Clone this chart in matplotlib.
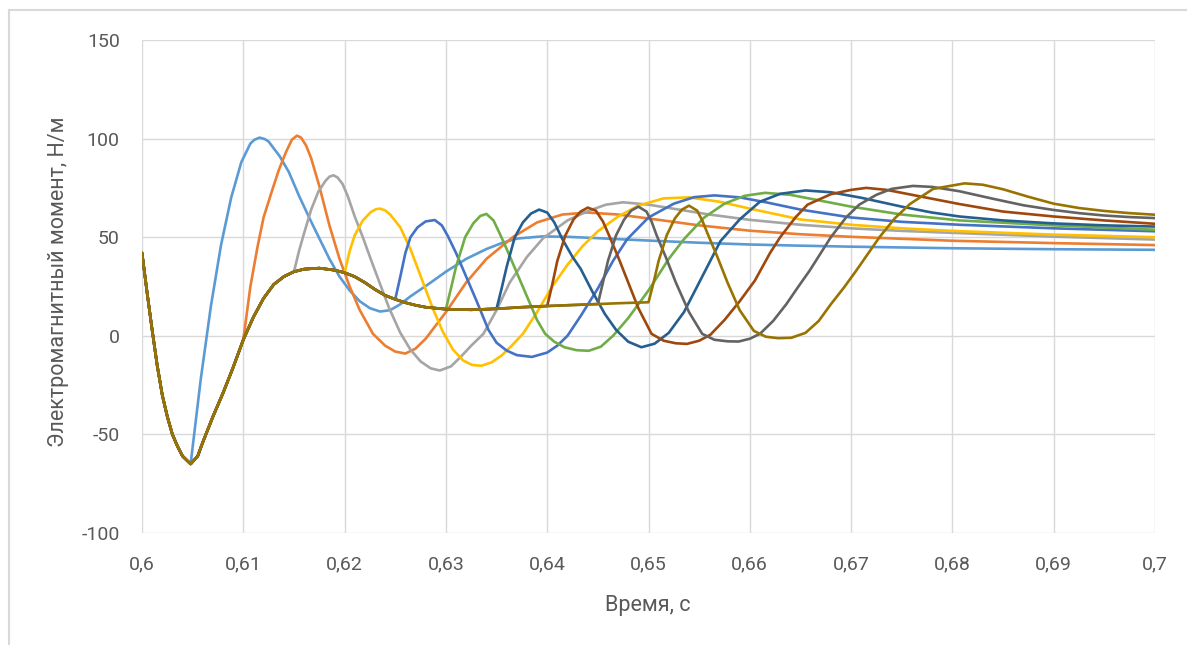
import matplotlib
matplotlib.use("Agg")
import matplotlib.pyplot as plt
from matplotlib.lines import Line2D

# ---------------- data ----------------
X_TICKS = [0.60, 0.61, 0.62, 0.63, 0.64, 0.65, 0.66, 0.67, 0.68, 0.69, 0.70]
X_TICK_LABELS = ["0,6", "0,61", "0,62", "0,63", "0,64", "0,65", "0,66", "0,67", "0,68", "0,69", "0,7"]
Y_TICKS = [-100, -50, 0, 50, 100, 150]
Y_TICK_LABELS = ["-100", "-50", "0", "50", "100", "150"]
X_LABEL = "Время, с"
Y_LABEL = "Электромагнитный момент, Н/м"

COLORS = ["#5B9BD5", "#ED7D31", "#A5A5A5", "#FFC000", "#4472C4",
          "#70AD47", "#255E91", "#9E480E", "#636363", "#997300"]

# common pre-switch trajectory
BASE_T = [0.600, 0.6005, 0.601, 0.6015, 0.602, 0.6025, 0.603, 0.6035, 0.604, 0.6048,
          0.6055, 0.606, 0.607, 0.608, 0.609, 0.610, 0.611, 0.612, 0.613, 0.614,
          0.615, 0.616, 0.6175, 0.619, 0.620, 0.621, 0.622, 0.623, 0.624, 0.625,
          0.626, 0.627, 0.628, 0.629, 0.630, 0.6325, 0.635, 0.6375, 0.640, 0.6425,
          0.645, 0.6475, 0.650]
BASE_V = [42, 22, 3, -15, -30, -41, -50, -56, -61, -65,
          -61, -54, -41, -29, -16, -2, 9.5, 19, 26, 30,
          32.5, 33.8, 34.3, 33.3, 32, 30, 27, 23.5, 20.5, 18.5,
          16.8, 15.5, 14.5, 14, 13.5, 13.2, 13.7, 14.5, 15.1, 15.6,
          16.1, 16.6, 17]

# switching instants of the ten series
SWITCH_T = [0.6048, 0.610, 0.615, 0.620, 0.625, 0.630, 0.635, 0.640, 0.645, 0.650]

# post-switch parts
T1 = [0.6058, 0.6068, 0.6078, 0.6088, 0.6098, 0.6107, 0.6111, 0.6116, 0.6121, 0.6125,
      0.6136, 0.6145, 0.6155, 0.6165, 0.6174, 0.6185, 0.6195, 0.6205, 0.6215, 0.6225,
      0.6235, 0.6245, 0.6255, 0.6265, 0.6275, 0.6285, 0.630, 0.632, 0.634, 0.6355,
      0.637, 0.6395, 0.642, 0.645, 0.650, 0.655, 0.660, 0.665, 0.670, 0.680,
      0.690, 0.700]
V1 = [-22, 15, 46, 70, 88, 97.5, 99.4, 100.5, 99.8, 98.5,
      91, 83, 71, 60, 50.5, 39, 30, 23, 17.5, 14,
      12.3, 13, 16, 20, 23.5, 27, 32.5, 39, 44, 47,
      49.3, 50.4, 50.2, 49.5, 48.3, 47.2, 46.3, 45.7, 45.2, 44.4,
      43.9, 43.6]

T2 = [0.6107, 0.6114, 0.612, 0.6128, 0.6135, 0.6142, 0.6148, 0.6153, 0.6157, 0.6162,
      0.6167, 0.6175, 0.6185, 0.6195, 0.6205, 0.6215, 0.6228, 0.624, 0.625, 0.626,
      0.627, 0.628, 0.630, 0.632, 0.634, 0.6366, 0.639, 0.6415, 0.644, 0.647,
      0.650, 0.655, 0.660, 0.665, 0.670, 0.680, 0.690, 0.700]
V2 = [25, 45, 60, 73, 84, 93, 99.5, 101.5, 100.5, 96.5,
      90, 76, 56, 39, 25, 13, 1, -5, -8, -9,
      -6.5, -1.5, 12, 27, 39, 50, 57.5, 61.5, 62.5, 61.5,
      59.5, 56, 53.3, 51.5, 50.2, 48.2, 47, 46]

T3 = [0.6155, 0.616, 0.6167, 0.6174, 0.6181, 0.6185, 0.6189, 0.6193, 0.6198, 0.6203,
      0.621, 0.6218, 0.6225, 0.6233, 0.6244, 0.6255, 0.6265, 0.6275, 0.6285, 0.6294,
      0.6305, 0.6315, 0.6325, 0.6337, 0.635, 0.6363, 0.638, 0.6396, 0.642, 0.6439,
      0.6458, 0.6475, 0.650, 0.653, 0.656, 0.660, 0.665, 0.670, 0.675, 0.680,
      0.690, 0.700]
V3 = [43, 52, 64, 73, 78.5, 80.7, 81.4, 80.3, 77, 71,
      60.5, 50, 40, 29, 14, 1.5, -7, -13, -16.5, -17.6,
      -15.5, -10.5, -5, 1, 13, 27, 40, 49.5, 58.5, 63,
      66.5, 67.7, 66.5, 64, 61.5, 58.8, 56.3, 54.5, 53.2, 52.2,
      50.3, 48.8]

T4 = [0.6205, 0.621, 0.6218, 0.6226, 0.6231, 0.6235, 0.624, 0.6245, 0.6255, 0.6265,
      0.6276, 0.6287, 0.6297, 0.6307, 0.6317, 0.6326, 0.6335, 0.6345, 0.6355, 0.6365,
      0.6376, 0.639, 0.6405, 0.642, 0.6435, 0.645, 0.647, 0.649, 0.6515, 0.654,
      0.657, 0.660, 0.665, 0.670, 0.675, 0.680, 0.690, 0.700]
V4 = [43, 51, 58.5, 62.8, 64.2, 64.5, 63.6, 61.5, 55, 44,
      29, 14, 2, -7, -12.5, -14.8, -15.2, -13.5, -10, -5,
      1, 12, 25, 36, 45.5, 53, 60.5, 66, 69.7, 70.2,
      68, 64.5, 59, 56.3, 54.5, 53.2, 51.3, 50]

T5 = [0.6255, 0.626, 0.6265, 0.6272, 0.628, 0.6289, 0.6296, 0.6302, 0.631, 0.632,
      0.633, 0.6342, 0.635, 0.636, 0.637, 0.6385, 0.640, 0.641, 0.642, 0.6433,
      0.645, 0.6465, 0.6479, 0.650, 0.6525, 0.6545, 0.6565, 0.659, 0.6617, 0.665,
      0.670, 0.675, 0.6807, 0.690, 0.700]
V5 = [30, 42, 50, 55, 58, 58.7, 56, 50.5, 42, 30,
      18, 3, -3.5, -7.5, -9.8, -10.7, -8.5, -5, 0, 10,
      24, 38, 49, 60, 67, 70.3, 71.2, 70.2, 67.6, 64,
      60, 57.8, 56.3, 54.5, 53]

T6 = [0.6305, 0.631, 0.6319, 0.6327, 0.6334, 0.634, 0.6347, 0.6353, 0.636, 0.637,
      0.638, 0.639, 0.6398, 0.6407, 0.6417, 0.6429, 0.6441, 0.6453, 0.6465, 0.648,
      0.650, 0.652, 0.6535, 0.6555, 0.6575, 0.6595, 0.6615, 0.664, 0.667, 0.670,
      0.675, 0.6807, 0.690, 0.700]
V6 = [24, 35, 50, 57, 60.8, 61.8, 58.5, 52, 44, 32,
      20, 8, 1, -3, -5.8, -7.3, -7.6, -5.5, 0, 9,
      23, 39, 49, 60, 67, 71, 72.5, 71.5, 68.5, 65.5,
      61.5, 58.5, 56, 53.8]

T7 = [0.6355, 0.636, 0.6368, 0.6376, 0.6384, 0.6392, 0.640, 0.6407, 0.6415, 0.6425,
      0.6433, 0.6445, 0.6457, 0.6468, 0.648, 0.6493, 0.6506, 0.652, 0.6535, 0.655,
      0.6571, 0.659, 0.661, 0.663, 0.6655, 0.668, 0.671, 0.675, 0.678, 0.6807,
      0.685, 0.690, 0.695, 0.700]
V7 = [24, 35, 50, 57.5, 62, 64, 62.5, 57.5, 49, 40,
      34, 22, 11, 3, -3, -5.8, -4, 1.5, 12, 27,
      48, 59, 68, 72, 73.7, 72.8, 70, 65.5, 62.5, 60.5,
      58.5, 57, 56, 55.4]

T8 = [0.6405, 0.641, 0.6418, 0.6426, 0.6433, 0.644, 0.6448, 0.6455, 0.6461, 0.647,
      0.648, 0.649, 0.6503, 0.6515, 0.6527, 0.6538, 0.655, 0.6561, 0.6575, 0.659,
      0.6605, 0.662, 0.663, 0.6645, 0.6657, 0.668, 0.670, 0.6715, 0.6735, 0.676,
      0.6807, 0.685, 0.690, 0.695, 0.700]
V8 = [26, 38, 51, 59, 63, 65, 63.5, 58, 51, 40,
      27, 14, 1, -2.5, -3.8, -4.1, -2.5, 0.5, 8, 17.5,
      28, 42, 50, 60, 66.5, 71.8, 74, 75, 74, 71.5,
      66.8, 63, 60.5, 58.5, 56.8]

T9 = [0.6455, 0.646, 0.6468, 0.6476, 0.6483, 0.649, 0.6498, 0.6503, 0.6508, 0.6517,
      0.6527, 0.654, 0.6553, 0.6565, 0.6578, 0.6589, 0.660, 0.661, 0.6623, 0.6636,
      0.6648, 0.6659, 0.668, 0.6695, 0.6708, 0.6725, 0.674, 0.6761, 0.678, 0.6807,
      0.684, 0.687, 0.690, 0.6925, 0.695, 0.6975, 0.700]
V9 = [27, 38, 51, 59, 63.5, 65.5, 63, 58, 51, 40,
      27, 12, 1, -2, -2.8, -2.9, -1.5, 1, 7.5, 16,
      25, 33, 50, 60, 66.5, 71.5, 74.5, 76, 75.5, 73.3,
      69.5, 66.2, 63.8, 62.2, 61, 60.2, 59.7]

T10 = [0.6505, 0.651, 0.6518, 0.6526, 0.6533, 0.654, 0.6548, 0.6553, 0.6559, 0.6568,
       0.6578, 0.659, 0.6604, 0.6616, 0.6628, 0.6641, 0.6655, 0.6668, 0.668, 0.6693,
       0.6705, 0.6728, 0.6743, 0.6758, 0.6781, 0.6812, 0.683, 0.685, 0.6875, 0.690,
       0.6925, 0.695, 0.6975, 0.700]
V10 = [27, 38, 51, 59.5, 64, 66, 63.5, 58.5, 51, 40,
       27, 13, 2.5, -0.5, -1.2, -1, 1.5, 7.5, 16, 24.5,
       33, 50, 59.5, 66.8, 74.5, 77.3, 76.6, 74.3, 70.5, 67,
       64.8, 63.3, 62.2, 61.4]

SERIES_T = [T1, T2, T3, T4, T5, T6, T7, T8, T9, T10]
SERIES_V = [V1, V2, V3, V4, V5, V6, V7, V8, V9, V10]

# ---------------- figure ----------------
W, H = 1187, 645
plt.rcParams["font.family"] = ["Roboto", "DejaVu Sans"]
fig = plt.figure(figsize=(W / 100, H / 100), dpi=100)
fig.patch.set_facecolor("white")

L, R, TOP, BOT = 142, 1155, 40, 533
ax = fig.add_axes([L / W, 1 - BOT / H, (R - L) / W, (BOT - TOP) / H])

for sw, ts, vs, c in zip(SWITCH_T, SERIES_T, SERIES_V, COLORS):
    n = sum(1 for t in BASE_T if t <= sw + 1e-9)
    ax.plot(BASE_T[:n] + ts, BASE_V[:n] + vs, color=c, lw=1.9,
            solid_joinstyle="round", solid_capstyle="round")

ax.set_xlim(0.6, 0.7)
ax.set_ylim(-100, 150)
ax.set_xticks(X_TICKS, X_TICK_LABELS)
ax.set_yticks(Y_TICKS, Y_TICK_LABELS)
ax.grid(True, color="#D9D9D9", lw=1.0)
ax.set_axisbelow(True)
for s in ax.spines.values():
    s.set_visible(False)
ax.tick_params(axis="both", length=0, labelsize=14, colors="#595959")
ax.tick_params(axis="y", pad=16)
ax.tick_params(axis="x", pad=16)

fig.text(648 / W, 1 - 605 / H, X_LABEL, ha="center", va="center",
         fontsize=15.5, color="#595959")
fig.text(59 / W, 1 - 282 / H, Y_LABEL, ha="center", va="center",
         rotation=90, fontsize=15.5, color="#595959")

# outer chart frame (top and left edges visible)
fig.add_artist(Line2D([9 / W, 9 / W], [0, 1 - 10 / H], transform=fig.transFigure,
                      color="#D9D9D9", lw=1.5))
fig.add_artist(Line2D([9 / W, 1], [1 - 10 / H, 1 - 10 / H], transform=fig.transFigure,
                      color="#D9D9D9", lw=1.5))

fig.savefig("out.png", dpi=100, facecolor="white")
